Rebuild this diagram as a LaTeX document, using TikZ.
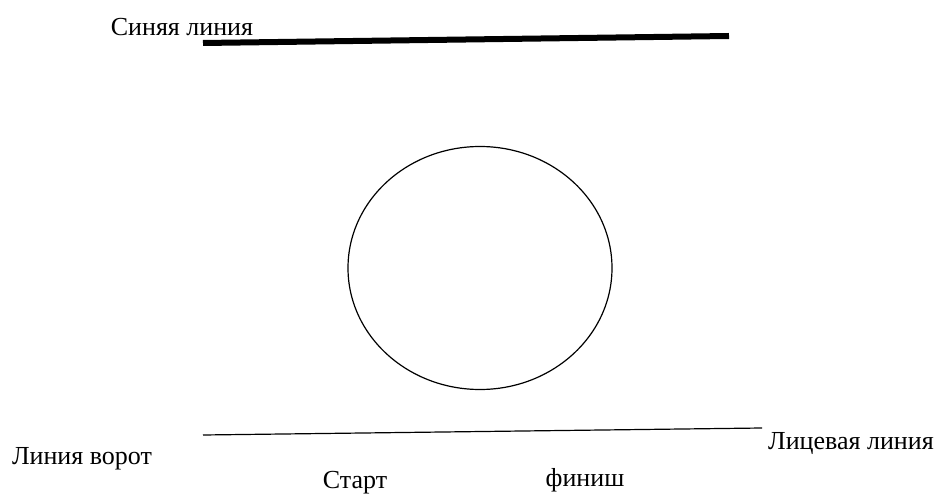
\documentclass[tikz,border=0pt]{standalone}
\usepackage{fontspec}
\setmainfont{Liberation Serif}
\usepackage{tikz}
\usetikzlibrary{positioning,shapes.geometric}

\begin{document}
\begin{tikzpicture}[
      x=1pt, y=-1pt,
      lbl/.style={font=\fontsize{26}{30}\selectfont, anchor=base, inner sep=0pt},
      thickline/.style={line width=6pt},
      thinline/.style={line width=1.2pt},
      ring/.style={draw, ellipse, line width=1.2pt, minimum width=264pt,
                   minimum height=243pt, inner sep=0pt}
    ]
    \useasboundingbox (0,0) rectangle (940,494);

    % lines of the field
    \coordinate (blueL) at (203,43);
    \coordinate (blueR) at (729,36);
    \draw[thickline] (blueL) -- (blueR);
    \coordinate (faceL) at (203,435);
    \coordinate (faceR) at (762,428);
    \draw[thinline] (faceL) -- (faceR);

    \node[ring] (circ) at (480,268) {};

    % labels
    \node[lbl] (blue)  at (182,36)  {Синяя линия};
    \node[lbl] (goal)  at (82,464)  {Линия ворот};
    \node[lbl] (face)  at (851,449) {Лицевая линия};
    \node[lbl] (start) at (355,488) {Старт};
    \node[lbl] (fin)   at (585,486) {финиш};
\end{tikzpicture}
\end{document}
